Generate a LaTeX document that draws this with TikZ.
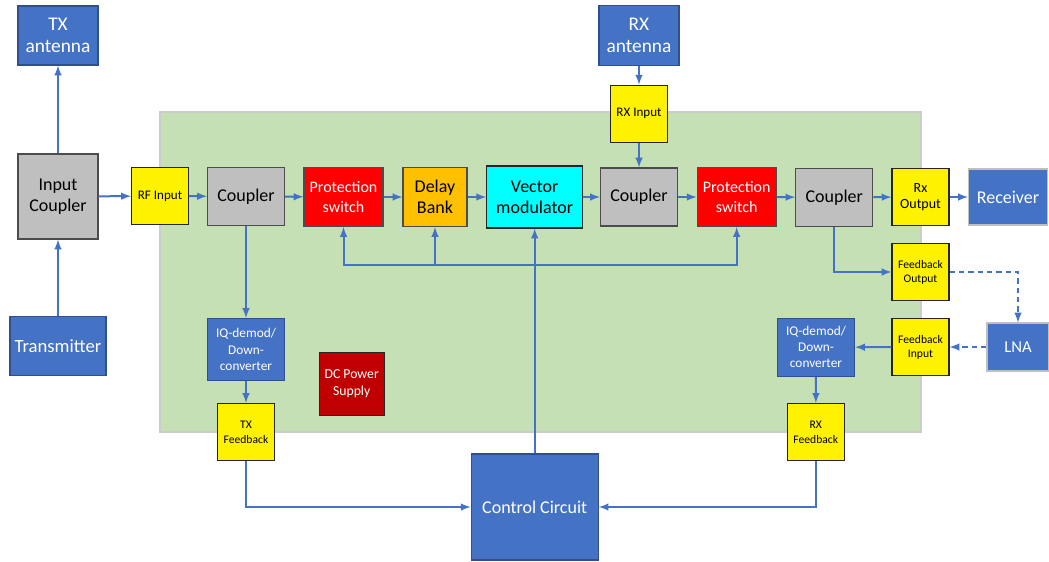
\documentclass[tikz,border=0pt]{standalone}
\usepackage{fontspec}
\setmainfont{Carlito}
\usepackage{tikz}
\usetikzlibrary{arrows}
\definecolor{lineblue}{HTML}{4472C4}
\definecolor{boxblue}{HTML}{4472C4}
\definecolor{edgeblue}{HTML}{2F4F8F}
\definecolor{boardgreen}{HTML}{C5E0B4}
\definecolor{boxgray}{HTML}{BFBFBF}
\definecolor{boxorange}{HTML}{FFC000}
\definecolor{boxcyan}{HTML}{00FFFF}
\definecolor{boxdarkred}{HTML}{C00000}
\tikzstyle{block} = [rectangle, align=center, inner sep=1pt, line width=0.8pt]
\tikzstyle{bluebox} = [block, draw=edgeblue, fill=boxblue, text=white]
\tikzstyle{softblue} = [block, draw=black!25, fill=boxblue, text=white]
\tikzstyle{graybox} = [block, draw=black!70, fill=boxgray, font=\fontsize{13.5}{16}\selectfont, minimum width=57.75pt, minimum height=43.5pt]
\tikzstyle{port} = [block, draw=black!85, fill=yellow, minimum width=42.75pt, minimum height=42.75pt]
\tikzstyle{switchbox} = [block, draw=black!70, fill=red, text=white, font=\fontsize{12}{14.5}\selectfont, minimum width=59.25pt, minimum height=44.25pt]
\tikzstyle{arrow} = [line width=1.5pt, draw=lineblue, ->, >=latex]
\tikzstyle{dasharrow} = [arrow, dash pattern=on 4pt off 3pt]

\begin{document}
\begin{tikzpicture}[x=0.75pt, y=-0.75pt]
        \useasboundingbox (0,0) rectangle (1049,561);

        % board
        \node (board) [rectangle, draw=black!20, line width=1pt, fill=boardgreen, minimum width=570.75pt, minimum height=240pt] at (540.5,272) {};

        % TX side
        \node (txant) [bluebox, minimum width=60pt, minimum height=44.25pt, font=\fontsize{14.5}{17}\selectfont] at (58,35.5) {TX\\antenna};
        \node (incoup) [graybox, minimum width=60pt, minimum height=63.75pt] at (58,196.5) {Input\\Coupler};
        \node (transmitter) [bluebox, minimum width=72pt, minimum height=44.25pt, font=\fontsize{14}{16}\selectfont] at (58,346) {Transmitter};

        % main chain
        \node (rfin) [port, font=\fontsize{9.8}{12}\selectfont] at (160,196) {RF Input};
        \node (coup1) [graybox] at (246,196.5) {Coupler};
        \node (ps1) [switchbox] at (343.5,197) {Protection\\switch};
        \node (delay) [block, draw=black!70, fill=boxorange, font=\fontsize{13.5}{15.5}\selectfont, minimum width=48pt, minimum height=44.25pt] at (435,197) {Delay\\Bank};
        \node (vm) [block, draw=black!85, fill=boxcyan, font=\fontsize{13.5}{15.5}\selectfont, minimum width=72pt, minimum height=46.5pt] at (534.7,197) {Vector\\modulator};
        \node (coup2) [graybox] at (639,197) {Coupler};
        \node (ps2) [switchbox] at (736.7,197) {Protection\\switch};
        \node (coup3) [graybox] at (834.3,197.3) {Coupler};
        \node (rxout) [port, font=\fontsize{10.5}{12.5}\selectfont] at (920.5,197) {Rx\\Output};
        \node (receiver) [softblue, minimum width=59.25pt, minimum height=42pt, font=\fontsize{13.5}{16}\selectfont] at (1008,197) {Receiver};

        % RX side
        \node (rxant) [bluebox, minimum width=60pt, minimum height=45pt, font=\fontsize{14.5}{17}\selectfont] at (639,35.5) {RX\\antenna};
        \node (rxin) [port, font=\fontsize{9.8}{12}\selectfont] at (639,113.7) {RX Input};

        % feedback paths
        \node (fbout) [port, font=\fontsize{8.7}{10.5}\selectfont] at (920.5,272) {Feedback\\Output};
        \node (fbin) [port, font=\fontsize{8.7}{10.5}\selectfont] at (920.5,347) {Feedback\\Input};
        \node (lna) [softblue, minimum width=46.5pt, minimum height=36pt, font=\fontsize{12.5}{14}\selectfont] at (1018,347) {LNA};
        \node (rxiq) [bluebox, minimum width=57.75pt, minimum height=43.5pt, font=\fontsize{10}{12}\selectfont] at (816,347.3) {IQ-demod/\\Down-\\converter};
        \node (rxfb) [port, font=\fontsize{8.7}{11}\selectfont] at (815.8,432) {RX\\Feedback};
        \node (txiq) [bluebox, minimum width=57.75pt, minimum height=46.5pt, font=\fontsize{10}{12.5}\selectfont] at (246,349.5) {IQ-demod/\\Down-\\converter};
        \node (txfb) [port, font=\fontsize{8.7}{11}\selectfont] at (246,432) {TX\\Feedback};
        \node (dcps) [block, draw=black!85, fill=boxdarkred, text=white, font=\fontsize{10.3}{13}\selectfont, minimum width=48.75pt, minimum height=47.25pt] at (351.7,383.7) {DC Power\\Supply};
        \node (ctrl) [bluebox, minimum width=95.25pt, minimum height=79.5pt, font=\fontsize{13.5}{16}\selectfont] at (534.7,507) {Control Circuit};

        \coordinate (busL) at (343.5,265);
        \coordinate (busR) at (736.7,265);

        \draw [arrow] (incoup) -- (txant);
        \draw [arrow] (transmitter) -- (incoup);
        \draw [arrow] (incoup) -- (rfin);
        \draw [arrow] (rfin) -- (coup1);
        \draw [arrow] (coup1) -- (ps1);
        \draw [arrow] (ps1) -- (delay);
        \draw [arrow] (delay) -- (vm);
        \draw [arrow] (vm) -- (coup2);
        \draw [arrow] (coup2) -- (ps2);
        \draw [arrow] (ps2) -- (coup3);
        \draw [arrow] (coup3) -- (rxout);
        \draw [arrow] (rxout) -- (receiver);
        \draw [arrow] (rxant) -- (rxin);
        \draw [arrow] (rxin) -- (coup2);
        \draw [arrow] (coup1) -- (txiq);
        \draw [arrow] (txiq) -- (txfb);
        \draw [arrow] (txfb) |- (ctrl);
        \draw [arrow] (rxfb) |- (ctrl);
        \draw [arrow] (ctrl) -- (vm);
        \draw [arrow, <->] (ps1.south) -- (busL) -- (busR) -- (ps2.south);
        \draw [arrow] (delay.south |- busL) -- (delay.south);
        \draw [arrow] (coup3.south) |- (fbout);
        \draw [dasharrow] (fbout) -| (lna);
        \draw [dasharrow] (lna) -- (fbin);
        \draw [arrow] (fbin) -- (rxiq);
        \draw [arrow] (rxiq) -- (rxfb);

      \end{tikzpicture}
\end{document}
